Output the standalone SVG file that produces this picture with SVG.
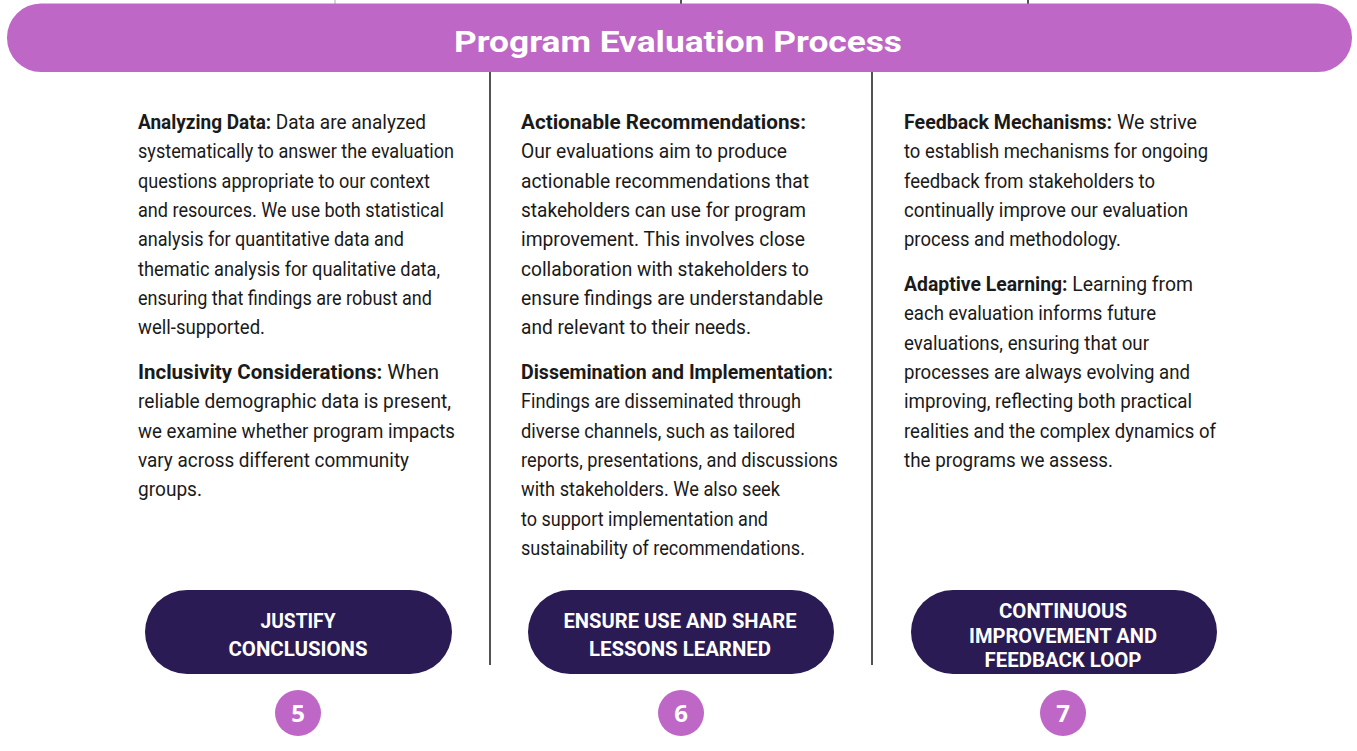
<svg xmlns="http://www.w3.org/2000/svg" width="1357" height="751" viewBox="0 0 1357 751">
<style>
.body{font-family:Roboto,"Liberation Sans",sans-serif;font-size:20px;fill:#1a1a1a}
.b{font-weight:700}
.pill{fill:#2a1b55}
.pt{font-family:Roboto,"Liberation Sans",sans-serif;font-size:21px;font-weight:700;fill:#fff;text-anchor:middle}
.num{fill:#be67c6}
.nt{font-family:"Open Sans","Liberation Sans",sans-serif;font-size:24px;font-weight:700;fill:#fff;text-anchor:middle}
.div{stroke:#1a1a1a;stroke-width:1.5}
</style>
<rect width="1357" height="751" fill="#fff"/>
<g id="connectors">
<line x1="335" y1="0" x2="335" y2="5" stroke="#c8c8c8" stroke-width="1.5"/>
<line class="div" x1="681" y1="0" x2="681" y2="5"/>
<line class="div" x1="1028" y1="0" x2="1028" y2="5"/>
<line class="div" x1="490" y1="70" x2="490" y2="665"/>
<line class="div" x1="872" y1="70" x2="872" y2="665"/>
</g>
<g id="banner">
<rect x="7" y="3.5" width="1345" height="68.5" rx="34" fill="#be67c6"/>
<text x="678" y="52" font-family="Roboto,'Liberation Sans',sans-serif" font-size="29" font-weight="700" fill="#fff" text-anchor="middle" textLength="448" lengthAdjust="spacingAndGlyphs">Program Evaluation Process</text>
</g>
<g id="col1" class="body">
<text x="138" y="129" textLength="288" lengthAdjust="spacingAndGlyphs"><tspan class="b">Analyzing Data:</tspan> Data are analyzed</text>
<text x="138" y="158.3" textLength="316" lengthAdjust="spacingAndGlyphs">systematically to answer the evaluation</text>
<text x="138" y="187.6" textLength="292" lengthAdjust="spacingAndGlyphs">questions appropriate to our context</text>
<text x="138" y="216.9" textLength="306" lengthAdjust="spacingAndGlyphs">and resources. We use both statistical</text>
<text x="138" y="246.2" textLength="266" lengthAdjust="spacingAndGlyphs">analysis for quantitative data and</text>
<text x="138" y="275.5" textLength="302" lengthAdjust="spacingAndGlyphs">thematic analysis for qualitative data,</text>
<text x="138" y="304.8" textLength="294" lengthAdjust="spacingAndGlyphs">ensuring that findings are robust and</text>
<text x="138" y="334.1" textLength="127" lengthAdjust="spacingAndGlyphs">well-supported.</text>
<text x="138" y="379" textLength="301" lengthAdjust="spacingAndGlyphs"><tspan class="b">Inclusivity Considerations:</tspan> When</text>
<text x="138" y="408.3" textLength="313" lengthAdjust="spacingAndGlyphs">reliable demographic data is present,</text>
<text x="138" y="437.6" textLength="317" lengthAdjust="spacingAndGlyphs">we examine whether program impacts</text>
<text x="138" y="466.9" textLength="271" lengthAdjust="spacingAndGlyphs">vary across different community</text>
<text x="138" y="496.2" textLength="64" lengthAdjust="spacingAndGlyphs">groups.</text>
</g>
<g id="col2" class="body">
<text x="521" y="129" class="b" textLength="285" lengthAdjust="spacingAndGlyphs">Actionable Recommendations:</text>
<text x="521" y="158.3" textLength="266" lengthAdjust="spacingAndGlyphs">Our evaluations aim to produce</text>
<text x="521" y="187.6" textLength="288" lengthAdjust="spacingAndGlyphs">actionable recommendations that</text>
<text x="521" y="216.9" textLength="285" lengthAdjust="spacingAndGlyphs">stakeholders can use for program</text>
<text x="521" y="246.2" textLength="284" lengthAdjust="spacingAndGlyphs">improvement. This involves close</text>
<text x="521" y="275.5" textLength="288" lengthAdjust="spacingAndGlyphs">collaboration with stakeholders to</text>
<text x="521" y="304.8" textLength="302" lengthAdjust="spacingAndGlyphs">ensure findings are understandable</text>
<text x="521" y="334.1" textLength="230" lengthAdjust="spacingAndGlyphs">and relevant to their needs.</text>
<text x="521" y="379" class="b" textLength="312" lengthAdjust="spacingAndGlyphs">Dissemination and Implementation:</text>
<text x="521" y="408.3" textLength="280" lengthAdjust="spacingAndGlyphs">Findings are disseminated through</text>
<text x="521" y="437.6" textLength="274" lengthAdjust="spacingAndGlyphs">diverse channels, such as tailored</text>
<text x="521" y="466.9" textLength="317" lengthAdjust="spacingAndGlyphs">reports, presentations, and discussions</text>
<text x="521" y="496.2" textLength="259" lengthAdjust="spacingAndGlyphs">with stakeholders. We also seek</text>
<text x="521" y="525.5" textLength="247" lengthAdjust="spacingAndGlyphs">to support implementation and</text>
<text x="521" y="554.8" textLength="284" lengthAdjust="spacingAndGlyphs">sustainability of recommendations.</text>
</g>
<g id="col3" class="body">
<text x="904" y="129" textLength="293" lengthAdjust="spacingAndGlyphs"><tspan class="b">Feedback Mechanisms:</tspan> We strive</text>
<text x="904" y="158.3" textLength="304" lengthAdjust="spacingAndGlyphs">to establish mechanisms for ongoing</text>
<text x="904" y="187.6" textLength="251" lengthAdjust="spacingAndGlyphs">feedback from stakeholders to</text>
<text x="904" y="216.9" textLength="284" lengthAdjust="spacingAndGlyphs">continually improve our evaluation</text>
<text x="904" y="246.2" textLength="217" lengthAdjust="spacingAndGlyphs">process and methodology.</text>
<text x="904" y="291" textLength="289" lengthAdjust="spacingAndGlyphs"><tspan class="b">Adaptive Learning:</tspan> Learning from</text>
<text x="904" y="320.3" textLength="252" lengthAdjust="spacingAndGlyphs">each evaluation informs future</text>
<text x="904" y="349.6" textLength="245" lengthAdjust="spacingAndGlyphs">evaluations, ensuring that our</text>
<text x="904" y="378.9" textLength="286" lengthAdjust="spacingAndGlyphs">processes are always evolving and</text>
<text x="904" y="408.2" textLength="288" lengthAdjust="spacingAndGlyphs">improving, reflecting both practical</text>
<text x="904" y="437.5" textLength="312" lengthAdjust="spacingAndGlyphs">realities and the complex dynamics of</text>
<text x="904" y="466.8" textLength="209" lengthAdjust="spacingAndGlyphs">the programs we assess.</text>
</g>
<g id="step5">
<rect class="pill" x="145" y="590" width="307" height="84" rx="42"/>
<text class="pt" x="298" y="628" textLength="75" lengthAdjust="spacingAndGlyphs">JUSTIFY</text>
<text class="pt" x="298" y="656" textLength="139" lengthAdjust="spacingAndGlyphs">CONCLUSIONS</text>
<circle class="num" cx="298" cy="713" r="23"/>
<text class="nt" x="298" y="722">5</text>
</g>
<g id="step6">
<rect class="pill" x="528" y="590" width="306" height="84" rx="42"/>
<text class="pt" x="680" y="628" textLength="233" lengthAdjust="spacingAndGlyphs">ENSURE USE AND SHARE</text>
<text class="pt" x="680" y="656" textLength="182" lengthAdjust="spacingAndGlyphs">LESSONS LEARNED</text>
<circle class="num" cx="681" cy="713" r="23"/>
<text class="nt" x="681" y="722">6</text>
</g>
<g id="step7">
<rect class="pill" x="911" y="590" width="306" height="84" rx="42"/>
<text class="pt" x="1063" y="618" textLength="128" lengthAdjust="spacingAndGlyphs">CONTINUOUS</text>
<text class="pt" x="1063" y="643" textLength="188" lengthAdjust="spacingAndGlyphs">IMPROVEMENT AND</text>
<text class="pt" x="1063" y="667" textLength="157" lengthAdjust="spacingAndGlyphs">FEEDBACK LOOP</text>
<circle class="num" cx="1063" cy="713" r="23"/>
<text class="nt" x="1063" y="722">7</text>
</g>
</svg>
